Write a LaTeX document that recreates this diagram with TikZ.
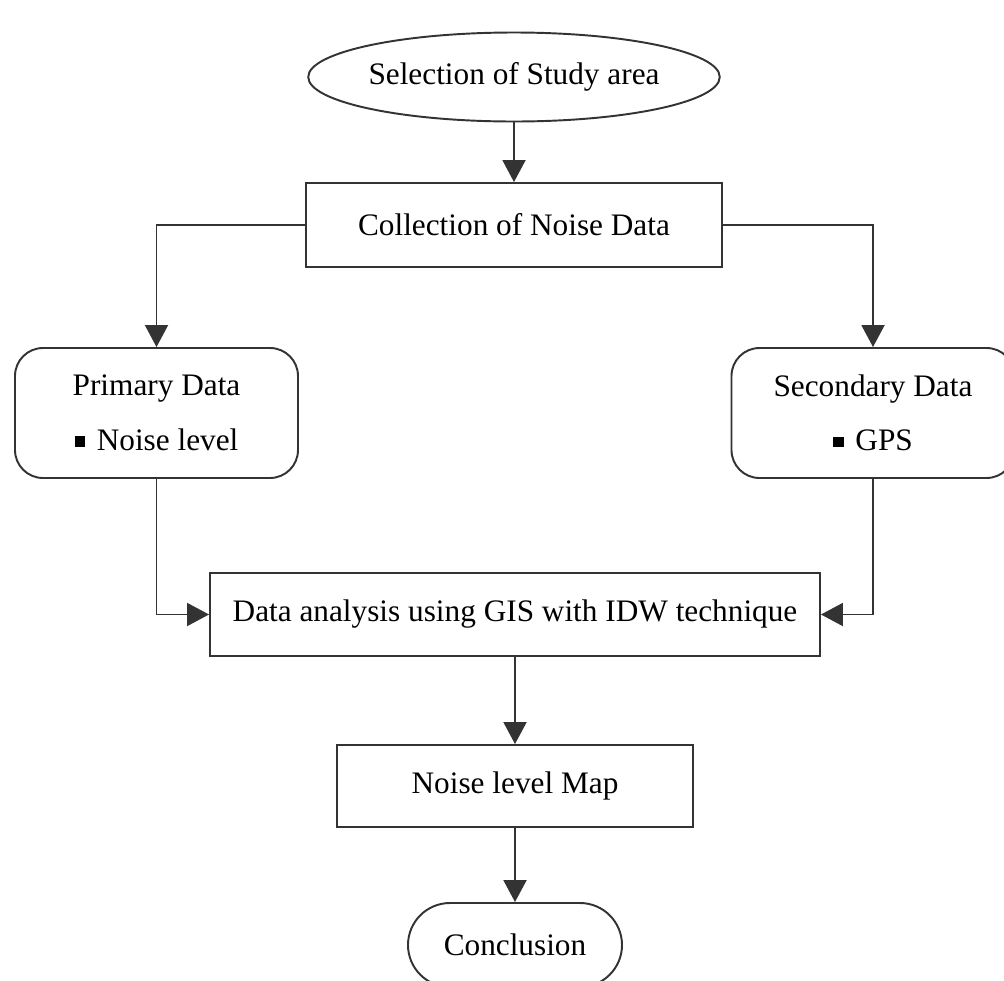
\documentclass[tikz,border=0pt]{standalone}
\usepackage{fontspec}
\setmainfont{Liberation Serif}
\usepackage{tikz}
\usetikzlibrary{shapes.geometric}
\usetikzlibrary{arrows.meta}

\begin{document}
\begin{tikzpicture}[
        line/.style={draw=black!80,line width=1.1pt},
        arr/.style={line,-{Triangle[length=0.44cm,width=0.46cm]}},
        box/.style={line,rectangle,inner sep=0pt,font=\fontsize{17.8}{21}\selectfont},
        rbox/.style={box,rounded corners=0.56cm,align=center,minimum width=5.66cm,minimum height=2.6cm},
        oval/.style={box,ellipse},
        pill/.style={box,rounded corners=0.84cm}]
            \useasboundingbox (0,0) rectangle (20.08,-19.62);

            \node[oval,minimum width=8cm,minimum height=1.78cm] (sel) at (10.28,-1.54) {Selection of Study area};
            \node[box,minimum width=8.32cm,minimum height=1.68cm] (coll) at (10.28,-4.5) {Collection of Noise Data};
            \node[rbox] (prim) at (3.13,-8.26) {Primary Data\\[10pt]\rule[0.12em]{0.33em}{0.33em}\hspace{0.38em}Noise level};
            \node[rbox] (sec) at (17.46,-8.26) {Secondary Data\\[10pt]\rule[0.12em]{0.33em}{0.33em}\hspace{0.38em}GPS};
            \node[box,minimum width=12.2cm,minimum height=1.66cm] (anal) at (10.3,-12.29) {Data analysis using GIS with IDW technique};
            \node[box,minimum width=7.12cm,minimum height=1.64cm] (map) at (10.3,-15.72) {Noise level Map};
            \node[pill,minimum width=4.28cm,minimum height=1.68cm] (conc) at (10.3,-18.9) {Conclusion};

            \draw[arr] (sel.south) -- (sel.south |- coll.north);
            \draw[arr] (coll.west) -| (prim.north);
            \draw[arr] (coll.east) -| (sec.north);
            \draw[arr] (prim.south) |- (anal.west);
            \draw[arr] (sec.south) |- (anal.east);
            \draw[arr] (anal.south) -- (map.north);
            \draw[arr] (map.south) -- (conc.north);

        \end{tikzpicture}
\end{document}
